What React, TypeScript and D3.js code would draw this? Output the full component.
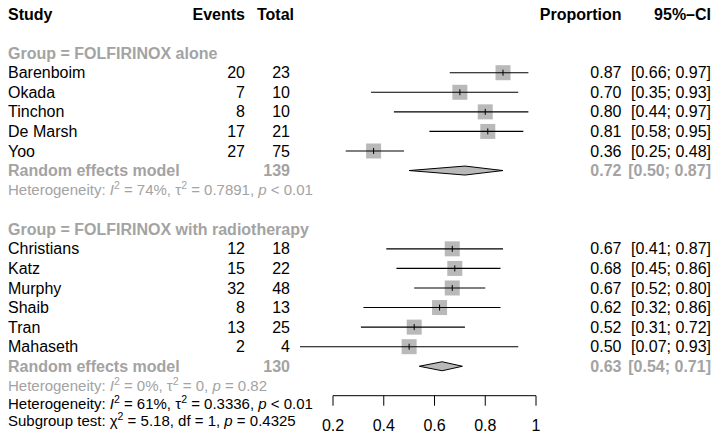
import React from 'react';
import * as d3 from 'd3';

const studies1 = ['Barenboim', 'Okada', 'Tinchon', 'De Marsh', 'Yoo'];
const events1 = [20, 7, 8, 17, 27];
const totals1 = [23, 10, 10, 21, 75];
const prop1 = [0.87, 0.70, 0.80, 0.81, 0.36];
const lower1 = [0.66, 0.35, 0.44, 0.58, 0.25];
const upper1 = [0.97, 0.93, 0.97, 0.95, 0.48];

const studies2 = ['Christians', 'Katz', 'Murphy', 'Shaib', 'Tran', 'Mahaseth'];
const events2 = [12, 15, 32, 8, 13, 2];
const totals2 = [18, 22, 48, 13, 25, 4];
const prop2 = [0.67, 0.68, 0.67, 0.62, 0.52, 0.50];
const lower2 = [0.41, 0.45, 0.52, 0.32, 0.31, 0.07];
const upper2 = [0.87, 0.86, 0.80, 0.86, 0.72, 0.93];

const groupLabels = ['Group = FOLFIRINOX alone', 'Group = FOLFIRINOX with radiotherapy'];
const groupTotals = [139, 130];
const groupEst = [0.72, 0.63];
const groupLower = [0.50, 0.54];
const groupUpper = [0.87, 0.71];
const groupI2 = ['74%', '0%'];
const groupTau2 = ['0.7891', '0'];
const groupP = ['< 0.01', '= 0.82'];

const overallI2 = '61%';
const overallTau2 = '0.3336';
const overallP = '< 0.01';
const subChi2 = '5.18';
const subDf = '1';
const subP = '= 0.4325';

const xTicks = [0.2, 0.4, 0.6, 0.8, 1];

const FONT = '"Liberation Sans", Arial, Helvetica, sans-serif';
const GREY = '#a3a3a3';
const SQ = '#b9b9b9';

export default function App() {
  const x = d3.scaleLinear().domain([0.2, 1]).range([333, 536]);
  const rowY = (i: number) => 14 + i * 19.57;
  const fs = 16;
  const hfs = 15;
  const xStudy = 8;
  const xEvents = 245;
  const xTotal = 290;
  const xTotalHdr = 294;
  const xProp = 621.5;
  const xCI = 711;
  const sqSize = 15;

  const groups = [
    { studies: studies1, events: events1, totals: totals1, prop: prop1, lower: lower1, upper: upper1, start: 2 },
    { studies: studies2, events: events2, totals: totals2, prop: prop2, lower: lower2, upper: upper2, start: 11 },
  ];

  const sup = (s: string, color: string) => [
    <tspan key="a" dy={-6} fontSize={hfs * 0.7} fill={color}>{s}</tspan>,
    <tspan key="b" dy={6} fill={color}>{''}</tspan>,
  ];

  const hetText = (yy: number, i2: string, tau2: string, p: string, color: string, key: string) => (
    <text key={key} x={xStudy} y={yy} dy="0.35em" fontSize={hfs} fill={color}>
      <tspan>Heterogeneity: </tspan>
      <tspan fontStyle="italic">I</tspan>
      <tspan dy={-6} fontSize={hfs * 0.7}>2</tspan>
      <tspan dy={6}>{` = ${i2}, \u03c4`}</tspan>
      <tspan dy={-6} fontSize={hfs * 0.7}>2</tspan>
      <tspan dy={6}>{` = ${tau2}, `}</tspan>
      <tspan fontStyle="italic">p</tspan>
      <tspan>{` ${p}`}</tspan>
    </text>
  );

  const fmt = d3.format('.2f');
  const axisY = 395.7;

  return (
    <svg width={716} height={441} style={{ position: 'absolute', left: 0, top: 0, background: '#fff' }} fontFamily={FONT}>
      {/* header */}
      <g fontWeight="bold" fontSize={fs}>
        <text x={xStudy} y={rowY(0)} dy="0.35em">Study</text>
        <text x={xEvents} y={rowY(0)} dy="0.35em" textAnchor="end">Events</text>
        <text x={xTotalHdr} y={rowY(0)} dy="0.35em" textAnchor="end">Total</text>
        <text x={xProp} y={rowY(0)} dy="0.35em" textAnchor="end">Proportion</text>
        <text x={xCI} y={rowY(0)} dy="0.35em" textAnchor="end">95%–CI</text>
      </g>
      {groups.map((g, gi) => {
        const yH = rowY(g.start);
        const yRE = rowY(g.start + 1 + g.studies.length);
        const yHet = rowY(g.start + 2 + g.studies.length);
        const dia = [
          [x(groupLower[gi]), yRE],
          [x(groupEst[gi]), yRE - 4.5],
          [x(groupUpper[gi]), yRE],
          [x(groupEst[gi]), yRE + 4.5],
        ];
        return (
          <g key={gi}>
            <text x={xStudy} y={yH} dy="0.35em" fontSize={fs} fontWeight="bold" fill={GREY}>{groupLabels[gi]}</text>
            {g.studies.map((s, i) => {
              const yy = rowY(g.start + 1 + i);
              return (
                <g key={s}>
                  <text x={xStudy} y={yy} dy="0.35em" fontSize={fs}>{s}</text>
                  <text x={xEvents} y={yy} dy="0.35em" fontSize={fs} textAnchor="end">{g.events[i]}</text>
                  <text x={xTotal} y={yy} dy="0.35em" fontSize={fs} textAnchor="end">{g.totals[i]}</text>
                  <rect x={x(g.prop[i]) - sqSize / 2} y={yy - sqSize / 2} width={sqSize} height={sqSize} fill={SQ} />
                  <line x1={x(g.lower[i])} x2={x(g.upper[i])} y1={yy} y2={yy} stroke="#000" strokeWidth={1.1} />
                  <line x1={x(g.prop[i])} x2={x(g.prop[i])} y1={yy - 3} y2={yy + 3} stroke="#000" strokeWidth={1} />
                  <text x={xProp} y={yy} dy="0.35em" fontSize={fs} textAnchor="end">{fmt(g.prop[i])}</text>
                  <text x={xCI} y={yy} dy="0.35em" fontSize={fs} textAnchor="end">{`[${fmt(g.lower[i])}; ${fmt(g.upper[i])}]`}</text>
                </g>
              );
            })}
            <text x={xStudy} y={yRE} dy="0.35em" fontSize={fs} fontWeight="bold" fill={GREY}>Random effects model</text>
            <text x={xTotal} y={yRE} dy="0.35em" fontSize={fs} fontWeight="bold" fill={GREY} textAnchor="end">{groupTotals[gi]}</text>
            <polygon points={dia.map((p) => p.join(',')).join(' ')} fill={SQ} stroke="#000" strokeWidth={1} />
            <text x={xProp} y={yRE} dy="0.35em" fontSize={fs} fontWeight="bold" fill={GREY} textAnchor="end">{fmt(groupEst[gi])}</text>
            <text x={xCI} y={yRE} dy="0.35em" fontSize={fs} fontWeight="bold" fill={GREY} textAnchor="end">{`[${fmt(groupLower[gi])}; ${fmt(groupUpper[gi])}]`}</text>
            {hetText(yHet, groupI2[gi], groupTau2[gi], groupP[gi], GREY, 'het' + gi)}
          </g>
        );
      })}
      {hetText(403.3, overallI2, overallTau2, overallP, '#000', 'hetall')}
      <text x={xStudy} y={420.7} dy="0.35em" fontSize={hfs} fill="#000">
        <tspan>Subgroup test: χ</tspan>
        <tspan dy={-6} fontSize={hfs * 0.7}>2</tspan>
        <tspan dy={6}>{` = ${subChi2}, df = ${subDf}, `}</tspan>
        <tspan fontStyle="italic">p</tspan>
        <tspan>{` ${subP}`}</tspan>
      </text>
      {/* axis */}
      <g>
        <line x1={x(xTicks[0])} x2={x(xTicks[xTicks.length - 1])} y1={axisY} y2={axisY} stroke="#000" strokeWidth={1} />
        {xTicks.map((t) => (
          <g key={t}>
            <line x1={x(t)} x2={x(t)} y1={axisY} y2={axisY + 10} stroke="#000" strokeWidth={1} />
            <text x={x(t)} y={425} dy="0.35em" fontSize={fs} textAnchor="middle">{d3.format('~g')(t)}</text>
          </g>
        ))}
      </g>
    </svg>
  );
}
